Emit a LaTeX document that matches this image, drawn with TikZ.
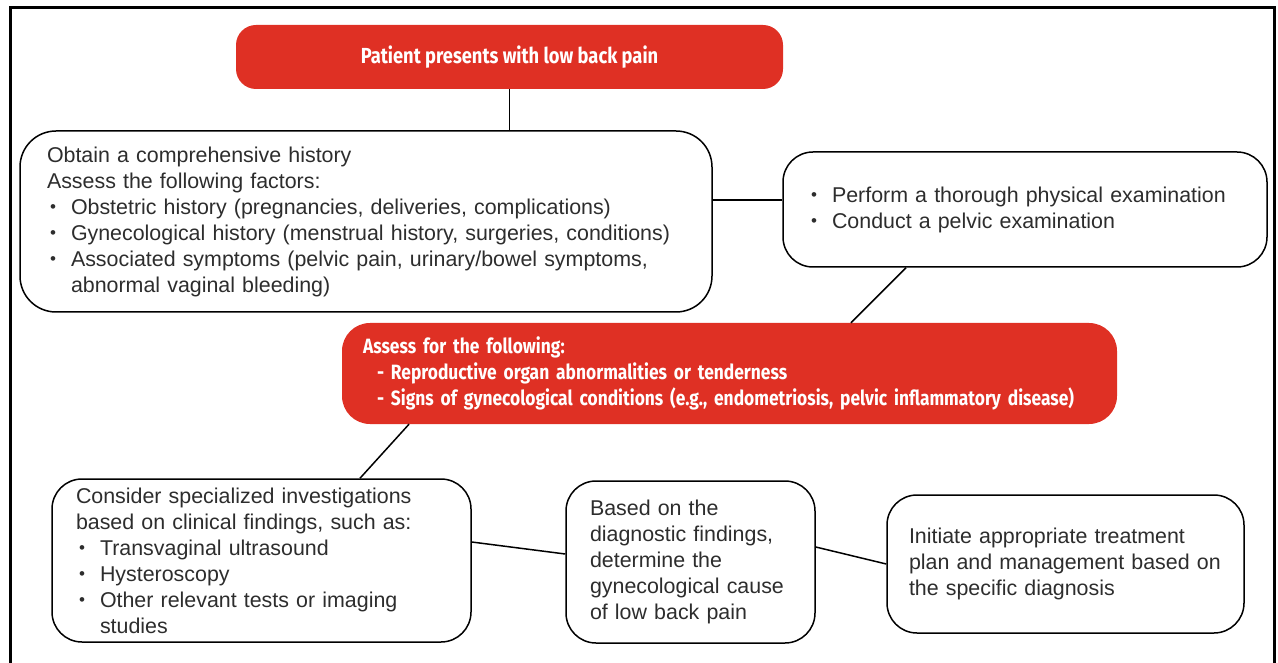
\documentclass[tikz,border=0pt]{standalone}
\usepackage{fontspec}
\setmainfont{Liberation Sans}
\newfontfamily\redfont[FakeStretch=0.84]{Fira Sans}
\definecolor{alarmred}{RGB}{223,48,36}
\definecolor{ink}{RGB}{45,45,45}
\newcommand\bitem[1]{\makebox[24pt][l]{\hspace{3pt}\raisebox{0.06em}{\fontsize{17}{17}\selectfont\textbullet}}#1}
\begin{document}
\begin{tikzpicture}[x=1pt,y=-1pt,
  box/.style={draw=black, line width=1.5pt, fill=white, text=ink, align=left,
    inner ysep=0pt, font=\fontsize{21.4}{26}\selectfont},
  redbox/.style={fill=alarmred, text=white, inner ysep=0pt,
    font=\redfont\bfseries\fontsize{20.7}{26}\selectfont},
  link/.style={draw=black, line width=1.5pt}]
\useasboundingbox (0,0) rectangle (1278,663);
% outer frame, open at the bottom
\draw[line width=3pt] (10,663) -- (10,8) -- (1274,8) -- (1274,663);

% start
\node[redbox, rounded corners=20pt, minimum width=547pt, minimum height=64pt,
  font=\redfont\bfseries\fontsize{21.8}{26}\selectfont]
  (start) at (509.5,57) {Patient presents with low back pain};

% history
\node[box, rounded corners=36pt, text width=638pt, inner xsep=27pt,
  minimum height=181pt] (hist) at (366,221.5)
  {Obtain a comprehensive history\\
   Assess the following factors:\\
   \bitem{Obstetric history (pregnancies, deliveries, complications)}\\
   \bitem{Gynecological history (menstrual history, surgeries, conditions)}\\
   \bitem{Associated symptoms (pelvic pain, urinary/bowel symptoms,}\\
   \hspace*{24pt}abnormal vaginal bleeding)};

% examination
\node[box, rounded corners=30pt, text width=434pt, inner xsep=25pt,
  minimum height=115pt] (exam) at (1025,209.5)
  {\bitem{Perform a thorough physical examination}\\
   \bitem{Conduct a pelvic examination}};

% assessment
\node[redbox, rounded corners=28pt, align=left, text width=733pt, inner xsep=21pt,
  minimum height=101pt] (assess) at (729.5,373.5)
  {Assess for the following:\\
   \hspace*{14pt}- Reproductive organ abnormalities or tenderness\\
   \hspace*{14pt}- Signs of gynecological conditions (e.g., endometriosis, pelvic inflammatory disease)};

% investigations
\node[box, rounded corners=30pt, text width=371pt, inner xsep=24pt,
  minimum height=163pt] (invest) at (261.5,560.5)
  {Consider specialized investigations\\
   based on clinical findings, such as:\\
   \bitem{Transvaginal ultrasound}\\
   \bitem{Hysteroscopy}\\
   \bitem{Other relevant tests or imaging}\\
   \hspace*{24pt}studies};

% diagnosis
\node[box, rounded corners=30pt, text width=201pt, inner xsep=24pt,
  minimum height=162pt] (diag) at (690.5,562)
  {Based on the\\
   diagnostic findings,\\
   determine the\\
   gynecological cause\\
   of low back pain};

% treatment
\node[box, rounded corners=30pt, text width=313pt, inner xsep=22pt,
  minimum height=138pt] (treat) at (1065.5,564)
  {Initiate appropriate treatment\\
   plan and management based on\\
   the specific diagnosis};

% connectors
\draw[link] (start.south) -- (start.south |- hist.north);
\draw[link] ([yshift=21.5pt]hist.east) -- ([yshift=9.5pt]exam.west);
\draw[link] ([xshift=-119pt]exam.south) -- ([xshift=121.5pt]assess.north);
\draw[link] ([xshift=-320.5pt]assess.south) -- ([xshift=98.5pt]invest.north);
\draw[link] ([yshift=18.5pt]invest.east) -- ([yshift=8pt]diag.west);
\draw[link] ([yshift=15pt]diag.east) -- (treat.west);
\end{tikzpicture}
\end{document}
